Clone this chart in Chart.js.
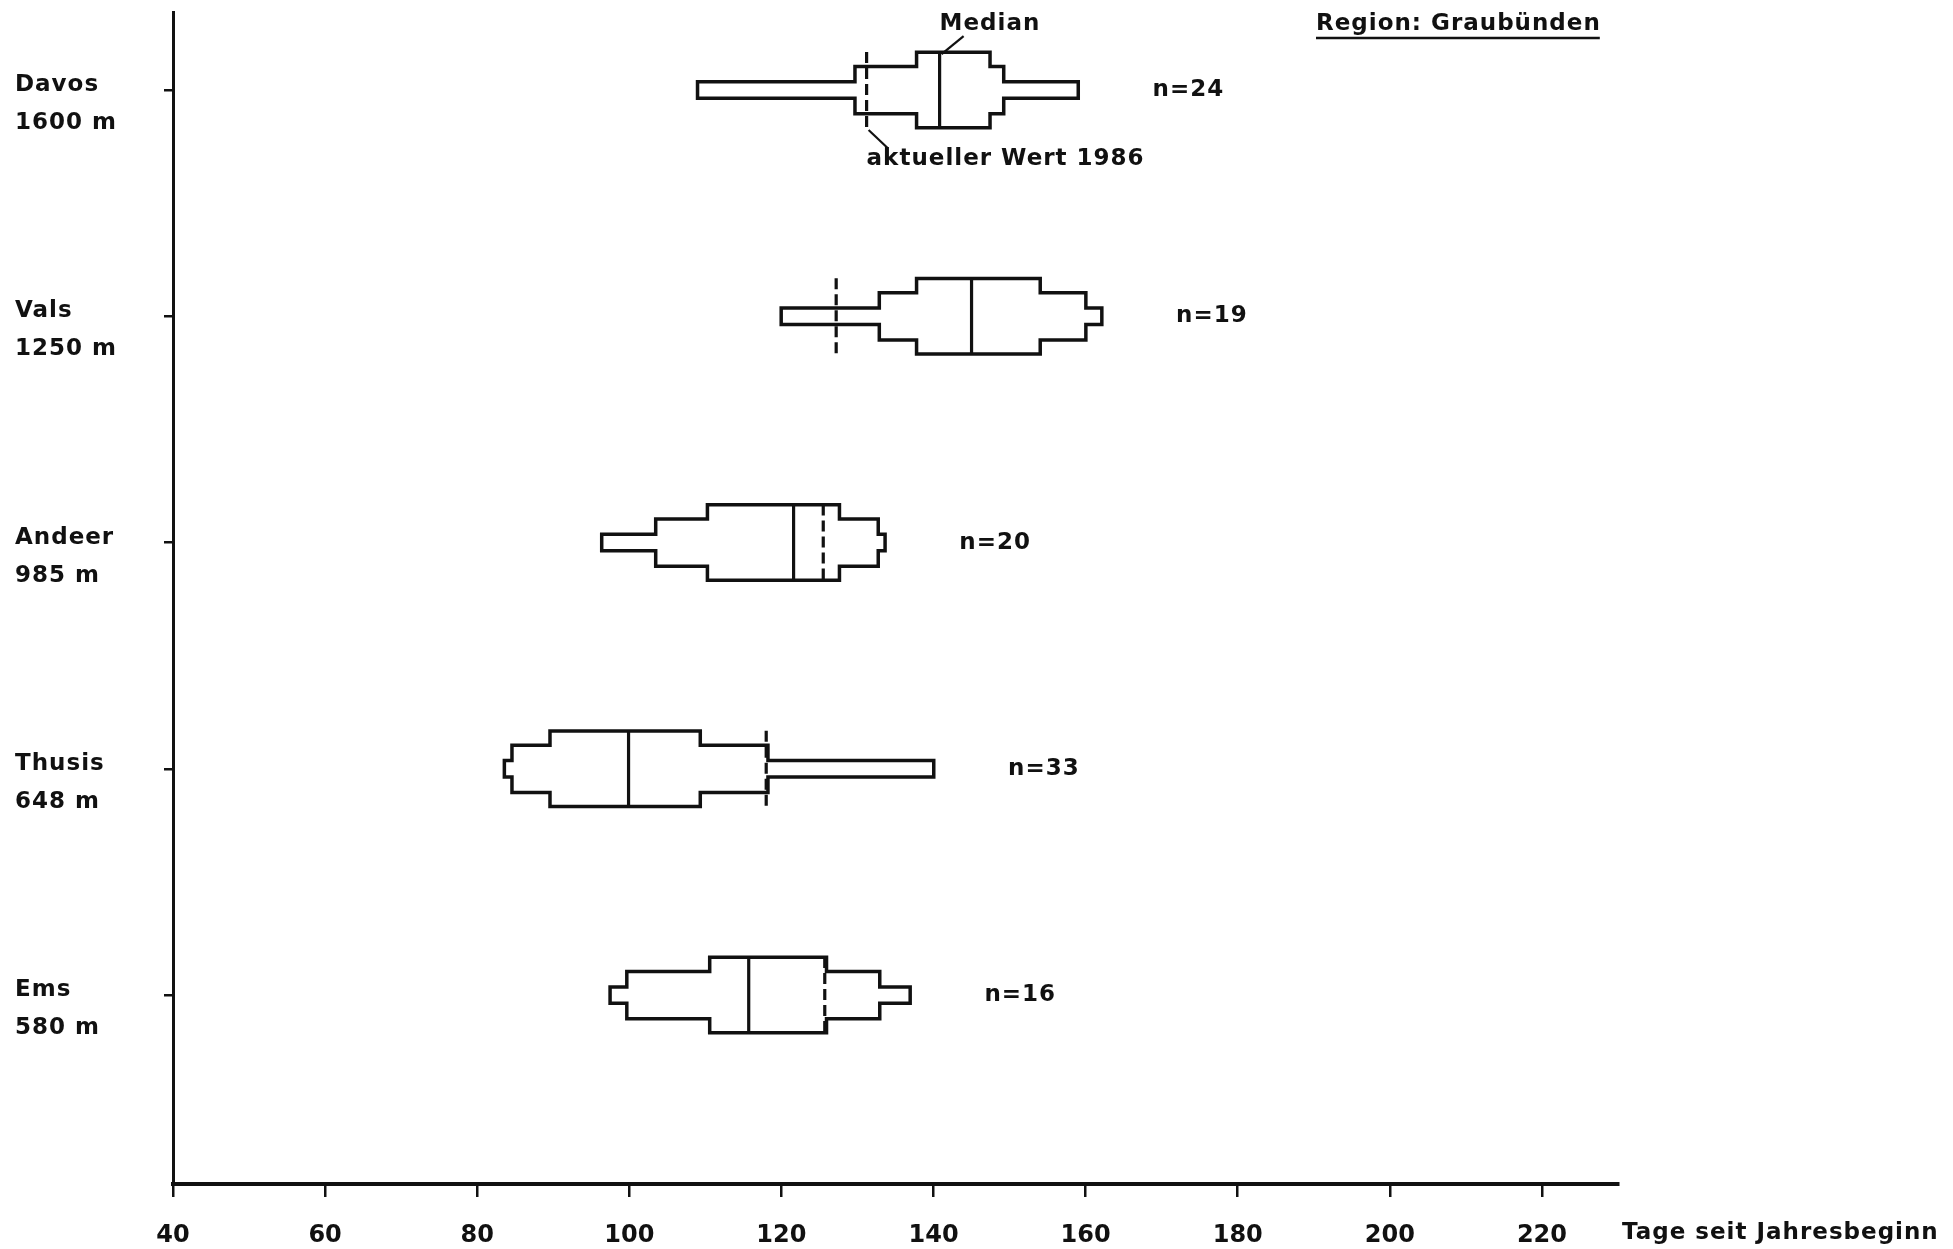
<!DOCTYPE html>
<html lang="de">
<head>
<meta charset="utf-8">
<title>Region Graubünden</title>
<script src="https://cdn.jsdelivr.net/npm/chart.js@4.4.1/dist/chart.umd.min.js"></script>
<style>
  body { margin: 0; background: #fff; }
  #wrap { position: relative; width: 1953px; height: 1249px; }
</style>
</head>
<body>
<div id="wrap"><canvas id="chart"></canvas></div>
<script>
'use strict';

// Stationen (von oben nach unten)
const stationen = ['Davos', 'Vals', 'Andeer', 'Thusis', 'Ems'];
const hoehen = ['1600 m', '1250 m', '985 m', '648 m', '580 m'];
const anzahl = [24, 19, 20, 33, 16];

// Stufen der Boxen, Tage seit Jahresbeginn [von, bis]
const stufeAussen = [[109.2, 158.8], [120.2, 161.9], [96.6, 133.4], [83.8, 139.8], [97.7, 136.7]];
const stufeMitte = [[129.9, 149.0], [133.1, 159.8], [103.7, 132.5], [84.8, 118.0], [99.9, 132.7]];
const stufeInnen = [[138.0, 147.2], [138.0, 153.8], [110.5, 127.4], [89.8, 109.1], [110.8, 125.7]];
const mediane = [140.8, 145.0, 121.6, 99.9, 115.7];
const wert1986 = [131.2, 127.2, 125.5, 118.0, 125.7];

const xTicks = [40, 60, 80, 100, 120, 140, 160, 180, 200, 220];

const schwarz = '#111';
const schrift = '"DejaVu Sans", "Noto Sans", sans-serif';

let canvasElem = document.getElementById('chart');

function stufe(ranges, pct, color, inflate, order) {
  return {
    type: 'bar',
    data: ranges.map((r, i) => ({ x: r, y: i })),
    backgroundColor: color,
    borderWidth: 0,
    inflateAmount: inflate,
    barPercentage: pct,
    categoryPercentage: 1,
    grouped: false,
    order: order,
  };
}

const hoeheStufen = [0.057, 0.193, 0.318];
const alleStufen = [stufeAussen, stufeMitte, stufeInnen];

const datasets = [];
// schwarze Umrisse (etwas aufgeblasen), darueber weisse Flaechen
for (let k = 0; k < alleStufen.length; k++) {
  datasets.push(stufe(alleStufen[k], hoeheStufen[k], schwarz, 3.5, 3));
}
for (let k = 0; k < alleStufen.length; k++) {
  datasets.push(stufe(alleStufen[k], hoeheStufen[k], '#fff', 0, 2));
}
// Median als duenner Balken
datasets.push(stufe(mediane.map(m => [m, m]), hoeheStufen[2], schwarz, 1.6, 1));
// aktueller Wert 1986, gestrichelt
for (let i = 0; i < wert1986.length; i++) {
  datasets.push({
    type: 'line',
    data: [{ x: wert1986[i], y: i - 0.168 }, { x: wert1986[i], y: i + 0.168 }],
    borderColor: schwarz,
    borderWidth: 3.2,
    borderDash: [11, 5],
    pointRadius: 0,
    fill: false,
    order: 0,
  });
}

const beschriftung = {
  id: 'beschriftung',
  afterDraw(chart) {
    const ctx = chart.ctx;
    const xs = chart.scales.x;
    const ys = chart.scales.y;
    const halb = ys.getPixelForValue(hoeheStufen[2] / 2) - ys.getPixelForValue(0);
    ctx.save();
    ctx.fillStyle = schwarz;
    ctx.strokeStyle = schwarz;
    ctx.font = 'bold 23px ' + schrift;
    ctx.letterSpacing = '1px';
    ctx.textBaseline = 'middle';
    ctx.textAlign = 'left';

    for (let i = 0; i < stationen.length; i++) {
      const yPix = ys.getPixelForValue(i);
      ctx.fillText(stationen[i], 15, yPix - 5);
      ctx.fillText(hoehen[i], 15, yPix + 33);
      ctx.fillText('n=' + anzahl[i], xs.getPixelForValue(stufeAussen[i][1]) + 76, yPix);
    }

    // Legende an der Box von Davos
    const y0 = ys.getPixelForValue(0);
    const mx = xs.getPixelForValue(mediane[0]);
    ctx.fillText('Median', mx, y0 - halb - 30);
    ctx.lineWidth = 2.2;
    ctx.beginPath();
    ctx.moveTo(mx + 24, y0 - halb - 18);
    ctx.lineTo(mx + 2, y0 - halb);
    ctx.stroke();

    const wx = xs.getPixelForValue(wert1986[0]);
    const unten = ys.getPixelForValue(0.168);
    ctx.fillText('aktueller Wert 1986', wx, unten + 31);
    ctx.beginPath();
    ctx.moveTo(wx + 2, unten + 2);
    ctx.lineTo(wx + 21, unten + 20);
    ctx.stroke();

    // Titel mit Unterstrich
    const titel = 'Region: Graubünden';
    ctx.fillText(titel, 1316, 24);
    const breite = ctx.measureText(titel).width;
    ctx.lineWidth = 2.5;
    ctx.beginPath();
    ctx.moveTo(1316, 38);
    ctx.lineTo(1316 + breite - 1, 38);
    ctx.stroke();

    ctx.fillText('Tage seit Jahresbeginn', 1622, 1233);
    ctx.restore();
  },
};

function renderChart() {
  return new Chart(canvasElem, {
    type: 'bar',
    data: { datasets: datasets },
    plugins: [beschriftung],
    options: {
      indexAxis: 'y',
      responsive: true,
      maintainAspectRatio: false,
      animation: false,
      layout: { padding: { top: 12, right: 335, left: 0, bottom: 0 } },
      plugins: {
        legend: { display: false },
        tooltip: { enabled: false },
      },
      scales: {
        x: {
          type: 'linear',
          min: 40,
          max: 230,
          afterBuildTicks: (s) => { s.ticks = xTicks.map(v => ({ value: v })); },
          afterFit: (s) => { s.height = 65; },
          grid: { drawOnChartArea: false, tickLength: 13, color: schwarz, lineWidth: 2.5 },
          border: { color: schwarz, width: 4 },
          ticks: {
            color: schwarz,
            font: { family: schrift, size: 24, weight: 'bold' },
            padding: 24,
            maxRotation: 0,
            autoSkip: false,
          },
        },
        y: {
          type: 'linear',
          reverse: true,
          offset: false,
          min: -0.345,
          max: 4.835,
          afterBuildTicks: (s) => { s.ticks = stationen.map((n, i) => ({ value: i })); },
          afterFit: (s) => { s.width = 173; },
          grid: { offset: false, drawOnChartArea: false, tickLength: 9, color: schwarz, lineWidth: 2.5 },
          border: { color: schwarz, width: 3 },
          ticks: { display: false },
        },
      },
    },
  });
}

renderChart();
</script>
</body>
</html>
